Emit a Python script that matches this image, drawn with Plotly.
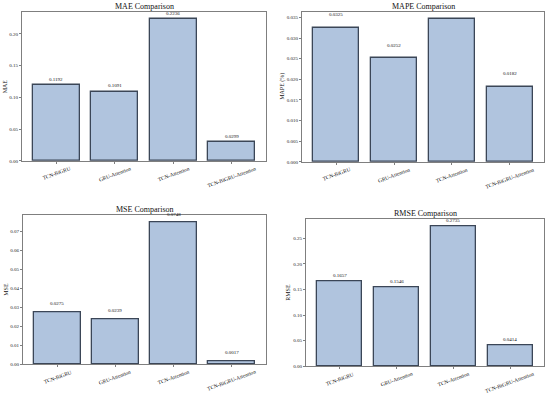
import plotly.graph_objects as go

models = ["TCN-BiGRU", "GRU-Attention", "TCN-Attention", "TCN-BiGRU-Attention"]
mae = [0.1192, 0.1091, 0.2236, 0.0299]
mape = [0.0325, 0.0252, 0.0346, 0.0182]
mse = [0.0275, 0.0239, 0.0748, 0.0017]
rmse = [0.1657, 0.1546, 0.2735, 0.0414]

panels = [
    ("MAE Comparison", "MAE", mae, [0, 0.05, 0.10, 0.15, 0.20], "{:.2f}"),
    ("MAPE Comparison", "MAPE (%)", mape, [0, 0.005, 0.010, 0.015, 0.020, 0.025, 0.030, 0.035], "{:.3f}"),
    ("MSE Comparison", "MSE", mse, [0, 0.01, 0.02, 0.03, 0.04, 0.05, 0.06, 0.07], "{:.2f}"),
    ("RMSE Comparison", "RMSE", rmse, [0, 0.05, 0.10, 0.15, 0.20, 0.25], "{:.2f}"),
]

W, H = 550, 394
# pixel boxes (left, right, top, bottom)
boxes = [(22, 266, 12, 162), (302, 544, 12, 163), (23, 266, 217, 367), (306, 544, 221, 369)]
ylab_x = [5, 283, 6, 288]

FONT = "Liberation Serif, Times New Roman, serif"
fill = "#B0C4DE"
edge = "#3B4657"
frame = "#7F7F7F"

fig = go.Figure()
annotations = []
xs = list(range(len(models)))
for i, (title, ylab, vals, ticks, fmt) in enumerate(panels):
    n = "" if i == 0 else str(i + 1)
    l, r, t, b = boxes[i]
    xd = [l / W, r / W]
    yd = [1 - b / H, 1 - t / H]
    ymax = max(vals) * 1.05
    fig.add_trace(go.Bar(
        x=xs, y=vals, width=0.8,
        marker=dict(color=fill, line=dict(color=edge, width=1.3)),
        xaxis="x" + n, yaxis="y" + n, showlegend=False, hoverinfo="skip",
    ))
    fig.layout["xaxis" + n] = dict(
        domain=xd, anchor="y" + n, range=[-0.59, 3.59], tickvals=xs,
        showticklabels=False, ticks="outside", ticklen=2, tickcolor=frame,
        showgrid=False, zeroline=False, showline=True, linecolor=frame,
        linewidth=1, mirror=True,
    )
    fig.layout["yaxis" + n] = dict(
        domain=yd, anchor="x" + n, range=[0, ymax], tickvals=ticks,
        ticktext=[fmt.format(v) for v in ticks],
        ticks="outside", ticklen=2, tickcolor=frame,
        tickfont=dict(family=FONT, size=5, color="#222"),
        showgrid=False, zeroline=False, showline=True, linecolor=frame,
        linewidth=1, mirror=True,
    )
    # title
    annotations.append(dict(
        text=title, x=(xd[0] + xd[1]) / 2, y=yd[1], xref="paper", yref="paper",
        xanchor="center", yanchor="bottom", yshift=-1, showarrow=False,
        font=dict(family=FONT, size=8, color="#111"),
    ))
    # y label
    annotations.append(dict(
        text=ylab, x=ylab_x[i] / W, y=(yd[0] + yd[1]) / 2, xref="paper", yref="paper",
        xanchor="center", yanchor="middle", textangle=-90, showarrow=False,
        font=dict(family=FONT, size=6, color="#111"),
    ))
    for xi, (m, v) in enumerate(zip(models, vals)):
        # value labels
        annotations.append(dict(
            text=f"{v:.4f}", x=xi, y=v + 0.002, xref="x" + n, yref="y" + n,
            xanchor="center", yanchor="bottom", showarrow=False,
            font=dict(family=FONT, size=5, color="#111"),
        ))
        # rotated category labels
        annotations.append(dict(
            text=m, x=xi, y=0, xref="x" + n, yref="y" + n + " domain",
            xanchor="center", yanchor="top", yshift=-2, textangle=-20,
            showarrow=False, font=dict(family=FONT, size=5.4, color="#111"),
        ))

fig.update_layout(
    width=W, height=H, margin=dict(l=0, r=0, t=0, b=0),
    paper_bgcolor="white", plot_bgcolor="white",
    annotations=annotations, bargap=0,
)
fig.write_html("out.html", config={"displayModeBar": False},
               post_script="document.body.style.margin='0px';")
